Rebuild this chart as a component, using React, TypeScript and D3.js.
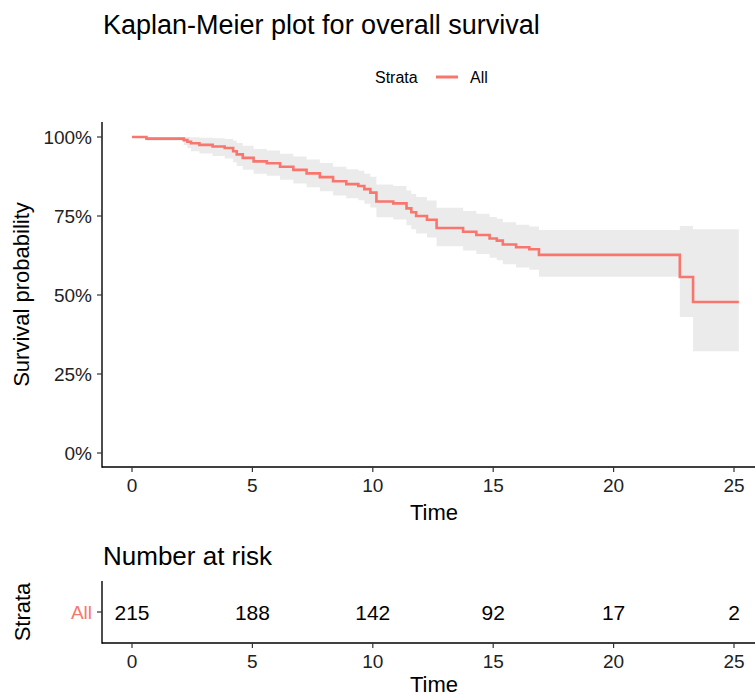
import * as d3 from "d3";
import { useEffect, useRef } from "react";

// Kaplan-Meier estimate (time of each drop, survival after it)
const times = [0, 0.6, 2.15, 2.3, 2.45, 2.8, 3.35, 3.85, 4.2, 4.35, 4.6, 5.05, 5.6, 6.15, 6.7, 7.25, 7.8, 8.35, 8.9, 9.4, 9.65, 9.9, 10.15, 10.85, 11.4, 11.6, 11.8, 12.25, 12.65, 13.75, 14.3, 14.85, 15.15, 15.4, 15.95, 16.5, 16.9, 22.75, 23.3];
const surv = [1.0, 0.995, 0.99, 0.985, 0.98, 0.975, 0.97, 0.965, 0.955, 0.945, 0.934, 0.923, 0.917, 0.906, 0.896, 0.885, 0.873, 0.86, 0.851, 0.845, 0.835, 0.824, 0.796, 0.79, 0.774, 0.762, 0.75, 0.738, 0.712, 0.7, 0.69, 0.679, 0.672, 0.66, 0.651, 0.645, 0.627, 0.557, 0.478];
const lower = [1.0, 0.988, 0.975, 0.965, 0.955, 0.948, 0.94, 0.932, 0.92, 0.908, 0.896, 0.884, 0.877, 0.865, 0.853, 0.841, 0.828, 0.815, 0.806, 0.8, 0.789, 0.777, 0.746, 0.739, 0.721, 0.708, 0.695, 0.682, 0.654, 0.641, 0.63, 0.618, 0.61, 0.597, 0.587, 0.58, 0.558, 0.43, 0.322];
const upper = [1.0, 1.0, 1.0, 1.0, 0.999, 0.998, 0.996, 0.994, 0.988, 0.981, 0.972, 0.962, 0.957, 0.947, 0.938, 0.929, 0.918, 0.906, 0.898, 0.893, 0.884, 0.874, 0.85, 0.845, 0.831, 0.82, 0.81, 0.799, 0.776, 0.766, 0.757, 0.747, 0.741, 0.73, 0.722, 0.717, 0.706, 0.718, 0.708];
const endTime = 25.2;

const xTicks = [0, 5, 10, 15, 20, 25];
const yTicks = [0, 0.25, 0.5, 0.75, 1];
const riskTimes = [0, 5, 10, 15, 20, 25];
const riskCounts = [215, 188, 142, 92, 17, 2];
const strata = ["All"];

const W = 755, H = 697;
const FONT = "'Liberation Sans', Arial, sans-serif";
const RED = "#F8766D";

const App = () => {
  const ref = useRef<SVGSVGElement>(null);

  useEffect(() => {
    const svg = d3.select(ref.current);
    svg.selectAll("*").remove();

    const panelLeft = 102;
    // x: t=0 at 132, t=25 at 734 (panel runs past the right edge)
    const x = d3.scaleLinear().domain([0, 25]).range([132, 734]);

    // ---- main plot ----
    const y = d3.scaleLinear().domain([0, 1]).range([453, 137]);
    const yBottom = 467, yTop = 122;

    const pts = times.map((t, i) => ({ t, s: surv[i], lo: lower[i], hi: upper[i] }));
    pts.push({ t: endTime, s: surv[surv.length - 1], lo: lower[lower.length - 1], hi: upper[upper.length - 1] });

    const area = d3.area<any>().curve(d3.curveStepAfter)
      .x((d) => x(d.t)).y0((d) => y(d.lo)).y1((d) => y(d.hi));
    svg.append("path").attr("d", area(pts)).attr("fill", "#ebebeb");

    const line = d3.line<any>().curve(d3.curveStepAfter).x((d) => x(d.t)).y((d) => y(d.s));
    svg.append("path").attr("d", line(pts)).attr("fill", "none")
      .attr("stroke", RED).attr("stroke-width", 2.6);

    // axes
    const gx = svg.append("g").attr("transform", `translate(0,${yBottom})`);
    gx.append("line").attr("x1", panelLeft).attr("x2", W).attr("stroke", "#000").attr("stroke-width", 1.4);
    xTicks.forEach((t) => {
      gx.append("line").attr("x1", x(t)).attr("x2", x(t)).attr("y1", 0).attr("y2", 5).attr("stroke", "#333").attr("stroke-width", 1.2);
      gx.append("text").attr("x", x(t)).attr("y", 25).attr("text-anchor", "middle")
        .attr("font-size", 19).attr("fill", "#222").text(t);
    });
    svg.append("text").attr("x", 434).attr("y", 520).attr("text-anchor", "middle")
      .attr("font-size", 22).attr("fill", "#000").text("Time");

    const gy = svg.append("g").attr("transform", `translate(${panelLeft},0)`);
    gy.append("line").attr("y1", yTop).attr("y2", yBottom + 0.7).attr("stroke", "#000").attr("stroke-width", 1.4);
    yTicks.forEach((v) => {
      gy.append("line").attr("x1", -5).attr("x2", 0).attr("y1", y(v)).attr("y2", y(v)).attr("stroke", "#333").attr("stroke-width", 1.2);
      gy.append("text").attr("x", -10).attr("y", y(v) + 7).attr("text-anchor", "end")
        .attr("font-size", 19).attr("fill", "#222").text(d3.format(".0%")(v));
    });
    svg.append("text").attr("transform", `translate(29,${(yTop + yBottom) / 2}) rotate(-90)`)
      .attr("text-anchor", "middle").attr("font-size", 22).attr("fill", "#000").text("Survival probability");

    // title + legend
    svg.append("text").attr("x", 103).attr("y", 34).attr("font-size", 27).attr("fill", "#000")
      .text("Kaplan-Meier plot for overall survival");
    svg.append("text").attr("x", 375).attr("y", 83).attr("font-size", 16).attr("fill", "#000").text("Strata");
    svg.append("line").attr("x1", 436).attr("x2", 458).attr("y1", 77).attr("y2", 77)
      .attr("stroke", RED).attr("stroke-width", 3);
    svg.append("text").attr("x", 470).attr("y", 83).attr("font-size", 16).attr("fill", "#000").text(strata[0]);

    // ---- risk table ----
    const rTop = 581, rBottom = 643;
    const ry = d3.scaleBand().domain(strata).range([rTop, rBottom]);
    const rowY = (ry(strata[0]) ?? 0) + ry.bandwidth() / 2;

    svg.append("text").attr("x", 103).attr("y", 565).attr("font-size", 26).attr("fill", "#000").text("Number at risk");

    svg.append("line").attr("x1", panelLeft).attr("x2", panelLeft).attr("y1", rTop).attr("y2", rBottom + 0.7)
      .attr("stroke", "#000").attr("stroke-width", 1.4);
    svg.append("line").attr("x1", panelLeft).attr("x2", W).attr("y1", rBottom).attr("y2", rBottom)
      .attr("stroke", "#000").attr("stroke-width", 1.4);
    svg.append("line").attr("x1", panelLeft - 5).attr("x2", panelLeft).attr("y1", rowY).attr("y2", rowY)
      .attr("stroke", "#333").attr("stroke-width", 1.2);
    svg.append("text").attr("x", panelLeft - 10).attr("y", rowY + 7).attr("text-anchor", "end")
      .attr("font-size", 19).attr("fill", RED).text(strata[0]);

    riskTimes.forEach((t, i) => {
      svg.append("text").attr("x", x(t)).attr("y", rowY + 8).attr("text-anchor", "middle")
        .attr("font-size", 21).attr("fill", "#000").text(riskCounts[i]);
    });
    xTicks.forEach((t) => {
      svg.append("line").attr("x1", x(t)).attr("x2", x(t)).attr("y1", rBottom).attr("y2", rBottom + 5)
        .attr("stroke", "#333").attr("stroke-width", 1.2);
      svg.append("text").attr("x", x(t)).attr("y", rBottom + 25).attr("text-anchor", "middle")
        .attr("font-size", 19).attr("fill", "#222").text(t);
    });
    svg.append("text").attr("x", 434).attr("y", 692).attr("text-anchor", "middle")
      .attr("font-size", 22).attr("fill", "#000").text("Time");
    svg.append("text").attr("transform", `translate(30,${(rTop + rBottom) / 2}) rotate(-90)`)
      .attr("text-anchor", "middle").attr("font-size", 22).attr("fill", "#000").text("Strata");
  }, []);

  return (
    <svg ref={ref} width={W} height={H} fontFamily={FONT}
      style={{ position: "absolute", left: 0, top: 0, background: "#fff" }} />
  );
};

export default App;
